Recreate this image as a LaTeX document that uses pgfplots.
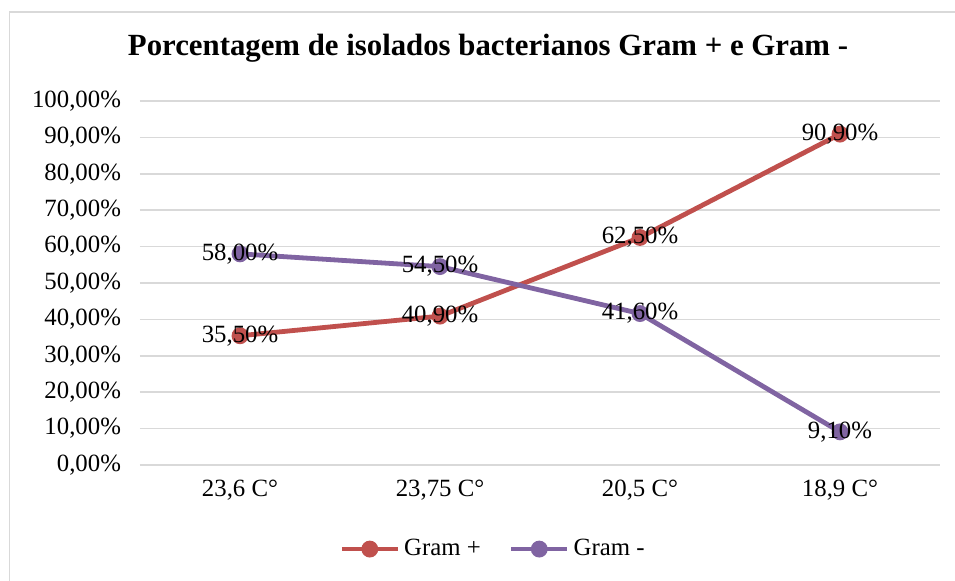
\documentclass[border=0pt]{standalone}
\usepackage{pgfplots}
\pgfplotsset{compat=1.18}
\usepackage{fontspec}
\setmainfont{Liberation Serif}
\definecolor{gpos}{HTML}{C0504D}
\definecolor{gneg}{HTML}{8064A2}
\definecolor{gridc}{HTML}{D9D9D9}
\begin{document}
\begin{tikzpicture}
\useasboundingbox (0,0) rectangle (477.5pt,290.5pt);
\draw[gridc, line width=0.6pt] (4.75pt,-20pt) -- (4.75pt,284.5pt) -- (500pt,284.5pt);
\node[font=\bfseries\fontsize{15.4}{18}\selectfont] at (244pt,266.5pt) {Porcentagem de isolados bacterianos Gram + e Gram -};
\begin{axis}[
  at={(70pt,58pt)}, anchor=south west,
  scale only axis, width=400pt, height=182pt,
  xmin=-0.5, xmax=3.5, ymin=0, ymax=100,
  axis line style={draw=none},
  xtick={0,1,2,3},
  xticklabels={{23,6 C°},{23,75 C°},{20,5 C°},{18,9 C°}},
  ytick={0,10,...,100},
  yticklabels={{0,00\%},{10,00\%},{20,00\%},{30,00\%},{40,00\%},{50,00\%},{60,00\%},{70,00\%},{80,00\%},{90,00\%},{100,00\%}},
  tick style={draw=none},
  ymajorgrids, grid style={gridc, line width=0.8pt},
  tick label style={font=\fontsize{12.4}{14}\selectfont},
  yticklabel style={xshift=-6pt},
  xticklabel style={yshift=-4pt},
  point meta=explicit symbolic,
  nodes near coords,
  nodes near coords align={center},
  every node near coord/.append style={font=\fontsize{12.4}{14}\selectfont, text=black, anchor=center},
  legend style={at={(0.4425,-0.231)}, anchor=center, draw=none, legend columns=2, font=\fontsize{12.4}{14}\selectfont, /tikz/every even column/.append style={column sep=12pt}},
  legend image code/.code={\draw[mark repeat=2,mark phase=2] plot coordinates {(0pt,0pt) (14pt,0pt) (28pt,0pt)};},
]
\addplot[gpos, line width=2.4pt, mark=*, mark size=3pt, mark options={solid}] coordinates {
  (0,35.5) [{35,50\%}]
  (1,40.9) [{40,90\%}]
  (2,62.5) [{62,50\%}]
  (3,90.9) [{90,90\%}]
};
\addlegendentry{Gram +}
\addplot[gneg, line width=2.4pt, mark=*, mark size=3pt, mark options={solid}] coordinates {
  (0,58.0) [{58,00\%}]
  (1,54.5) [{54,50\%}]
  (2,41.6) [{41,60\%}]
  (3,9.1) [{9,10\%}]
};
\addlegendentry{Gram -}
\end{axis}
\end{tikzpicture}
\end{document}
